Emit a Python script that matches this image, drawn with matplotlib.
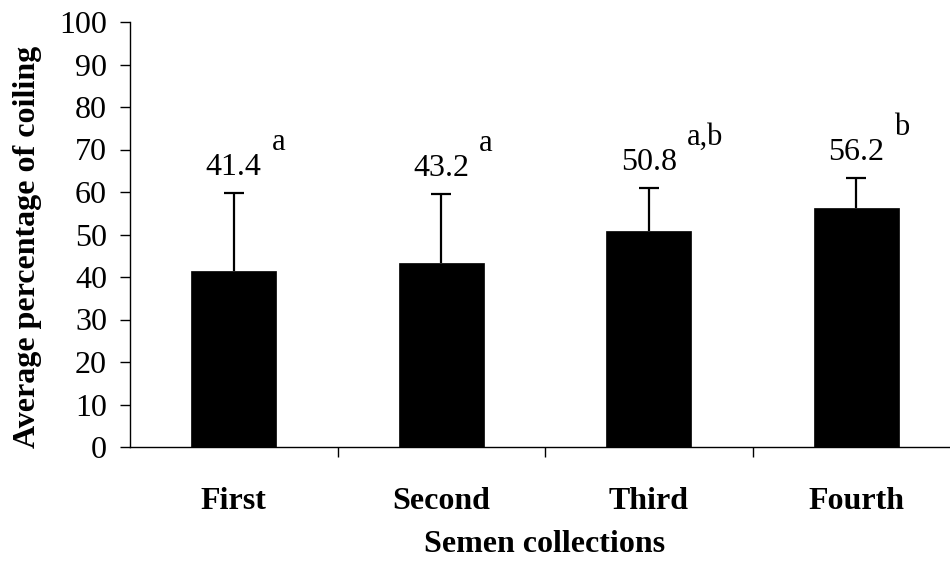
import matplotlib
matplotlib.use("Agg")
import matplotlib.pyplot as plt

# data
categories = ["First", "Second", "Third", "Fourth"]
means = [41.4, 43.2, 50.8, 56.2]
errs = [18.4, 16.3, 10.1, 7.1]
letters = ["a", "a", "a,b", "b"]

plt.rcParams['font.family'] = ['Liberation Serif', 'DejaVu Serif']
fs = 23

fig = plt.figure(figsize=(9.5, 5.62), dpi=100)
ax = fig.add_axes([130/950, 115/562, 830/950, 425/562])

x = list(range(len(categories)))
ax.bar(x, means, width=0.41, color='black', edgecolor='black', linewidth=0.5)
# upper error bars only
tops = [m + e for m, e in zip(means, errs)]
ax.vlines(x, means, tops, color='black', linewidth=1.6)
ax.plot(x, tops, ls='none', marker='_', ms=14, mew=1.6, color='black')

# value labels + superscript letters
for i in x:
    t = ax.text(i, tops[i] + 4.3, f"{means[i]:.1f}", ha='center',
                va='baseline', fontsize=fs)
    ax.annotate(letters[i], xy=(1, 1), xycoords=t, xytext=(7, -3),
                textcoords='offset points', ha='left', va='bottom', fontsize=fs - 1)

ax.set_xlim(-0.5, 3.5)
ax.set_ylim(0, 100)
ax.set_yticks(range(0, 101, 10))
ax.set_xticks([0.5, 1.5, 2.5], minor=False)
ax.set_xticklabels([])
ax.set_xticks(x, minor=True)
ax.set_xticklabels(categories, minor=True, fontsize=fs, fontweight='bold')
ax.tick_params(axis='x', which='minor', length=0, pad=29)
ax.tick_params(axis='x', which='major', length=7, direction='out', width=1)
ax.tick_params(axis='y', length=7, width=1, labelsize=fs, pad=9.5)

for s in ['top', 'right']:
    ax.spines[s].set_visible(False)
ax.spines['left'].set_linewidth(1)
ax.spines['bottom'].set_linewidth(1)

ax.set_ylabel("Average percentage of coiling", fontsize=fs, fontweight='bold')
ax.yaxis.set_label_coords(-0.106, 0.47)
ax.set_xlabel("Semen collections", fontsize=fs, fontweight='bold', labelpad=10)

fig.savefig("out.png", dpi=100)
